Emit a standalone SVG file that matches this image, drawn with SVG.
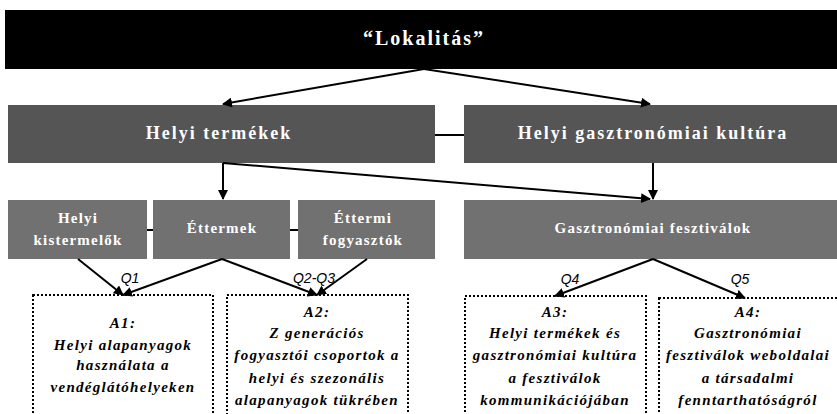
<svg xmlns="http://www.w3.org/2000/svg" width="837" height="414" viewBox="0 0 837 414">
<defs>
<style>
.t{font-family:"Liberation Serif","Times New Roman",serif;font-weight:bold;fill:#fff;text-anchor:middle;dominant-baseline:central}
.s{font-size:15px;letter-spacing:1.2px}
.a{font-family:"Liberation Serif","Times New Roman",serif;font-weight:bold;font-style:italic;fill:#000;text-anchor:middle;font-size:15px;letter-spacing:1.3px}
.q{font-family:"Liberation Sans",Arial,sans-serif;font-style:italic;fill:#000;font-size:14px;text-anchor:middle}
.c{stroke:#000;stroke-width:2;fill:none}
.d{fill:#fff;stroke:#000;stroke-width:2;stroke-dasharray:2 2}
.g2{fill:#555555}
.g3{fill:#717171}
</style>
<marker id="ah" viewBox="0 0 10 10" refX="9" refY="5" markerWidth="5" markerHeight="5" orient="auto" markerUnits="strokeWidth">
<path d="M0,0 L10,5 L0,10 z" fill="#000"/>
</marker>
</defs>
<rect width="837" height="414" fill="#fff"/>
<g id="lokalitas">
<rect x="5" y="10" width="840" height="59" fill="#000"/>
<text class="t" x="424" y="38" font-size="20" letter-spacing="2">“Lokalitás”</text>
</g>
<g id="helyi-termekek">
<rect class="g2" x="8" y="105" width="427" height="58"/>
<text class="t" x="219" y="133" font-size="18" letter-spacing="2">Helyi termékek</text>
</g>
<g id="helyi-gasztronomiai-kultura">
<rect class="g2" x="464" y="105" width="380" height="58"/>
<text class="t" x="653" y="133" font-size="18" letter-spacing="2">Helyi gasztronómiai kultúra</text>
</g>
<g id="helyi-kistermelok">
<rect class="g3" x="8" y="200" width="139" height="59"/>
<text class="t s" x="78" y="218">Helyi</text>
<text class="t s" x="78" y="240">kistermelők</text>
</g>
<g id="ettermek">
<rect class="g3" x="153" y="200" width="137" height="59"/>
<text class="t s" x="222" y="228">Éttermek</text>
</g>
<g id="ettermi-fogyasztok">
<rect class="g3" x="298" y="200" width="137" height="59"/>
<text class="t s" x="363" y="218">Éttermi</text>
<text class="t s" x="363" y="240">fogyasztók</text>
</g>
<g id="gasztronomiai-fesztivalok">
<rect class="g3" x="464" y="200" width="380" height="59"/>
<text class="t s" x="653" y="228">Gasztronómiai fesztiválok</text>
</g>
<g id="a1">
<rect class="d" x="33" y="295" width="180" height="125"/>
<text class="a" x="123" y="328">A1:</text>
<text class="a" x="123" y="350">Helyi alapanyagok</text>
<text class="a" x="123" y="370">használata a</text>
<text class="a" x="123" y="392">vendéglátóhelyeken</text>
</g>
<g id="a2">
<rect class="d" x="227" y="295" width="181" height="125"/>
<text class="a" x="317" y="317">A2:</text>
<text class="a" x="317" y="338">Z generációs</text>
<text class="a" x="317" y="360">fogyasztói csoportok a</text>
<text class="a" x="317" y="383">helyi és szezonális</text>
<text class="a" x="317" y="405">alapanyagok tükrében</text>
</g>
<g id="a3">
<rect class="d" x="465" y="296" width="181" height="125"/>
<text class="a" x="555" y="317">A3:</text>
<text class="a" x="555" y="338">Helyi termékek és</text>
<text class="a" x="555" y="360">gasztronómiai kultúra</text>
<text class="a" x="555" y="383">a fesztiválok</text>
<text class="a" x="555" y="405">kommunikációjában</text>
</g>
<g id="a4">
<rect class="d" x="659" y="298" width="190" height="125"/>
<text class="a" x="748" y="317">A4:</text>
<text class="a" x="748" y="338">Gasztronómiai</text>
<text class="a" x="748" y="360">fesztiválok weboldalai</text>
<text class="a" x="748" y="383">a társadalmi</text>
<text class="a" x="748" y="405">fenntarthatóságról</text>
</g>
<g id="connectors">
<line class="c" x1="424" y1="69" x2="223" y2="104" marker-end="url(#ah)"/>
<line class="c" x1="424" y1="69" x2="650" y2="104" marker-end="url(#ah)"/>
<line class="c" x1="435" y1="135" x2="464" y2="135"/>
<line class="c" x1="223" y1="163" x2="223" y2="199" marker-end="url(#ah)"/>
<line class="c" x1="223" y1="163" x2="650" y2="199" marker-end="url(#ah)"/>
<line class="c" x1="653" y1="163" x2="653" y2="199" marker-end="url(#ah)"/>
<line class="c" x1="147" y1="230" x2="153" y2="230"/>
<line class="c" x1="290" y1="230" x2="298" y2="230"/>
<line class="c" x1="78" y1="259" x2="123" y2="295" marker-end="url(#ah)"/>
<line class="c" x1="222" y1="259" x2="123" y2="295" marker-end="url(#ah)"/>
<line class="c" x1="222" y1="259" x2="317" y2="295" marker-end="url(#ah)"/>
<line class="c" x1="367" y1="259" x2="317" y2="295" marker-end="url(#ah)"/>
<line class="c" x1="653" y1="259" x2="555" y2="296" marker-end="url(#ah)"/>
<line class="c" x1="653" y1="259" x2="745" y2="298" marker-end="url(#ah)"/>
<text class="q" x="130" y="283">Q1</text>
<text class="q" x="314" y="283">Q2-Q3</text>
<text class="q" x="570" y="284">Q4</text>
<text class="q" x="740" y="284">Q5</text>
</g>
</svg>
